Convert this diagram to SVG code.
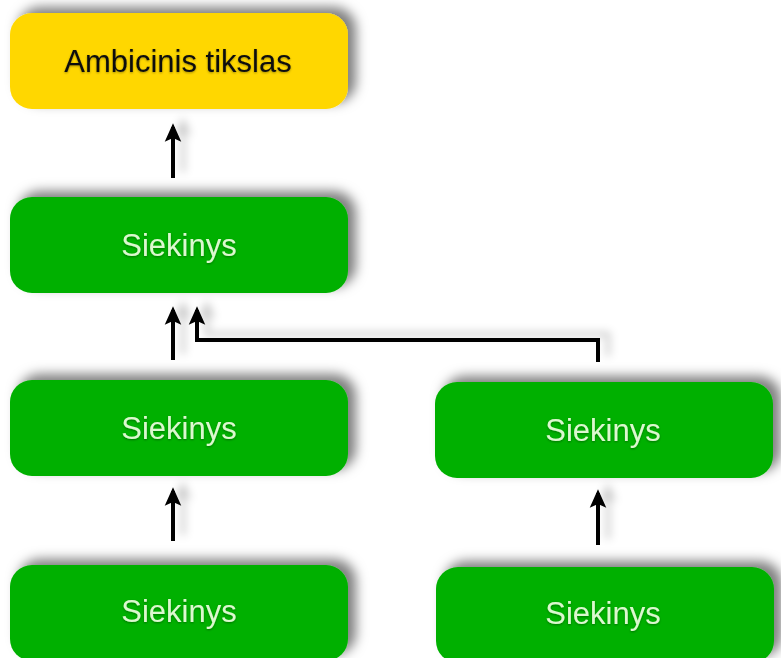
<svg xmlns="http://www.w3.org/2000/svg" width="781" height="658" viewBox="0 0 781 658">
<defs>
<filter id="sh" x="-20%" y="-40%" width="140%" height="180%">
<feDropShadow dx="8" dy="-6" stdDeviation="6" flood-color="#000" flood-opacity="0.5"/>
</filter>
<filter id="ash" filterUnits="userSpaceOnUse" x="0" y="0" width="781" height="658">
<feDropShadow dx="10" dy="-6" stdDeviation="4" flood-color="#000" flood-opacity="0.22"/>
</filter>
<filter id="tsh" x="-10%" y="-30%" width="120%" height="160%">
<feDropShadow dx="0" dy="1" stdDeviation="1" flood-color="#000" flood-opacity="0.35"/>
</filter>
<marker id="ah" viewBox="0 0 10 10" refX="8" refY="5" markerWidth="4.6" markerHeight="4.6" orient="auto" markerUnits="strokeWidth">
<path d="M0,0.5 L10,5 L0,9.5 L2,5 z" fill="#000"/>
</marker>
</defs>
<style>
.box{stroke:none;filter:url(#sh)}
.y{fill:#ffd700}
.g{fill:#06b006}
.t{font-family:"Liberation Sans",Arial,sans-serif;font-size:31px;text-anchor:middle;filter:url(#tsh)}
.dark{fill:#111}
.light{fill:#dcf8cf}
.c{fill:none;stroke:#000;stroke-width:4;marker-end:url(#ah);filter:url(#ash)}
</style>
<rect width="781" height="658" fill="#fff"/>
<g id="connectors">
<path class="c" d="M173,178 L173,127"/>
<path class="c" d="M173,360 L173,310"/>
<path class="c" d="M598,362 L598,340 L197,340 L197,310"/>
<path class="c" d="M173,541 L173,491"/>
<path class="c" d="M598,545 L598,493"/>
</g>
<g id="n1">
<rect class="box y" x="10" y="13" width="338" height="96" rx="22"/>
<text class="t dark" x="178" y="72">Ambicinis tikslas</text>
</g>
<g id="n2">
<rect class="box g" x="10" y="197" width="338" height="96" rx="22"/>
<text class="t light" x="179" y="256">Siekinys</text>
</g>
<g id="n3">
<rect class="box g" x="10" y="380" width="338" height="96" rx="22"/>
<text class="t light" x="179" y="439">Siekinys</text>
</g>
<g id="n4">
<rect class="box g" x="435" y="382" width="338" height="96" rx="22"/>
<text class="t light" x="603" y="441">Siekinys</text>
</g>
<g id="n5">
<rect class="box g" x="10" y="565" width="338" height="96" rx="22"/>
<text class="t light" x="179" y="622">Siekinys</text>
</g>
<g id="n6">
<rect class="box g" x="436" y="567" width="338" height="96" rx="22"/>
<text class="t light" x="603" y="624">Siekinys</text>
</g>
</svg>
